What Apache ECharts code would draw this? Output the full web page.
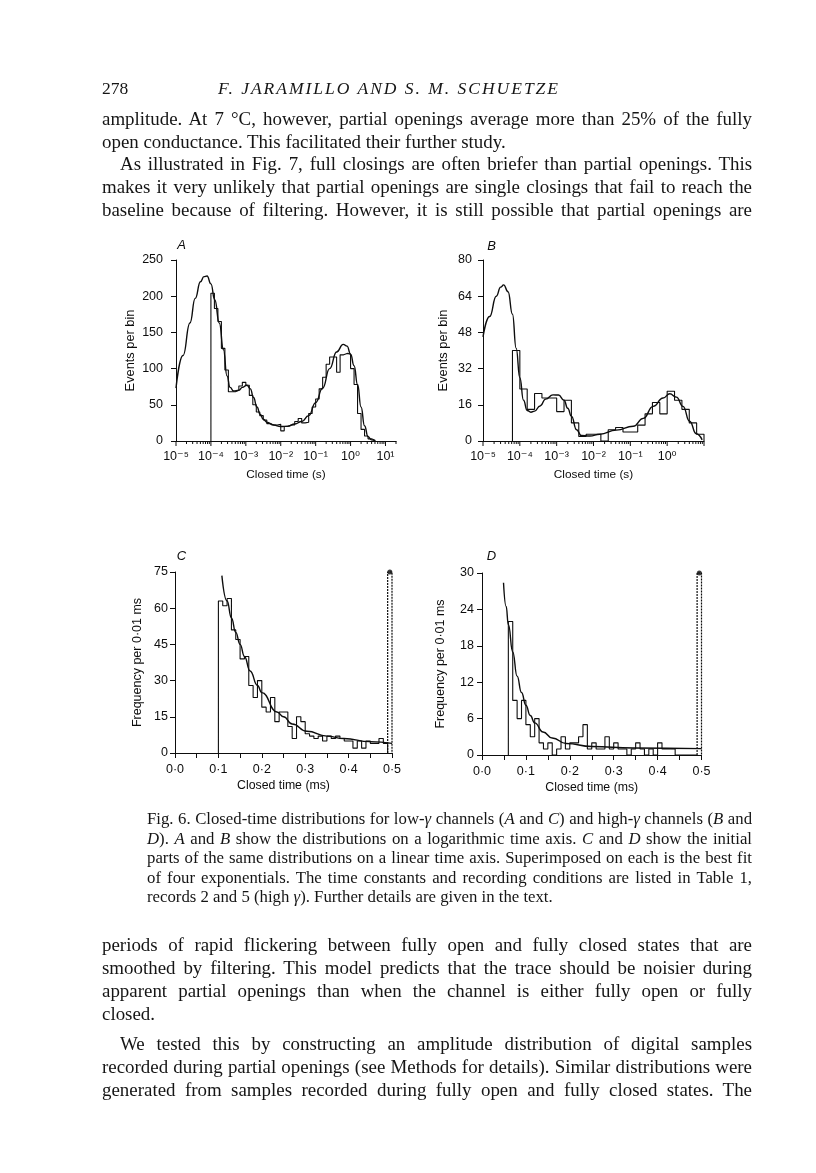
<!DOCTYPE html>
<html>
<head>
<meta charset="utf-8">
<title>Fig. 6 closed-time distributions</title>
<script src="https://cdn.jsdelivr.net/npm/echarts@6.0.0/dist/echarts.min.js"></script>
<style>
  html, body { margin:0; padding:0; background:#fff; }
  #page { position:relative; width:816px; height:1173px; overflow:hidden; background:#fff; }
  #chart { position:absolute; left:0; top:0; width:816px; height:1173px; }
  .ln { position:absolute; white-space:nowrap; font-family:'Liberation Serif','DejaVu Serif',serif; color:#151515; }
  .j { text-align:justify; text-align-last:justify; }
</style>
</head>
<body>
<div id="page"><div id="chart"></div></div>
<script>
// ---------------- DATA ----------------
// Panel A (low-gamma, log axis): bins of 0.1 decade starting at 10^-4 s
const A_binExpStart = -4.0;
const A_binExpWidth = 0.1;
const A_counts = [204,183,165,128,98,68,68,70,76,81,77,63,50,40,35,29,24,22,22,23,14,20,22,22,27,31,25,26,38,47,58,72,88,106,116,116,95,119,121,120,100,78,38,16,7,3,1];
// fitted curve A: [log10(time s), events per bin]
const A_fit = [[-5.0,73],[-4.8,118],[-4.6,163],[-4.45,197],[-4.3,220],[-4.2,227],[-4.11,228],[-4.0,217],[-3.89,195],[-3.76,163],[-3.64,126],[-3.54,90],[-3.45,74],[-3.35,69],[-3.2,70],[-3.1,74],[-2.97,77],[-2.87,72],[-2.78,60],[-2.68,47],[-2.59,37],[-2.5,30],[-2.4,26],[-2.2,22],[-2.0,20],[-1.8,20.5],[-1.6,23.5],[-1.4,27],[-1.2,35],[-1.0,53],[-0.8,73],[-0.6,100],[-0.4,123],[-0.21,133.5],[-0.1,131],[0.0,120],[0.1,104],[0.2,78],[0.3,47],[0.4,21],[0.5,6],[0.6,1.5],[0.7,0.3]];

// Panel B (high-gamma, log axis): bins of 0.2 decade starting at 10^-4.2 s
const B_binExpStart = -4.2;
const B_binExpWidth = 0.2;
const B_counts = [40,23,14,21,19,19,13,18,8,2,3,3,0,5,6,4,4,7,12,17,12,22,18,14,8,3];
const B_fit = [[-5.0,46],[-4.82,55],[-4.64,64],[-4.52,68],[-4.44,69],[-4.32,66],[-4.2,56],[-4.1,41],[-4.0,28],[-3.9,18],[-3.8,13.5],[-3.7,12.7],[-3.6,13.2],[-3.45,15.5],[-3.3,18.5],[-3.1,20.4],[-2.95,20.3],[-2.8,18],[-2.7,14.5],[-2.6,11],[-2.46,5],[-2.33,2.4],[-2.1,2.2],[-1.83,3],[-1.38,4.8],[-0.92,6.5],[-0.65,10],[-0.38,15.3],[-0.11,19],[0.07,20.9],[0.25,19.4],[0.43,15.3],[0.61,8.7],[0.79,3.2],[0.95,0.5]];

// Panel C (low-gamma, linear axis, ms): bins of 0.01 ms starting at 0.10 ms
const C_binStart = 0.10;
const C_binWidth = 0.01;
const C_counts = [63,61,64,51,47,39,40,28,23,30,19,17,23,13,17,17,11,6,15,13,8,7,6,7,5,7,6,7,6,5,5,2,5,2,5,4,4,6,4];
const C_overflow = { from: 0.49, to: 0.50, value: 75 };
const C_fit = [[0.108,73.5],[0.12,63],[0.13,56],[0.14,50],[0.15,45],[0.16,40],[0.173,34],[0.19,28],[0.2,25],[0.235,17],[0.25,15],[0.27,12],[0.304,9],[0.35,7],[0.389,6],[0.45,4.7],[0.5,4]];

// Panel D (high-gamma, linear axis, ms): bins of 0.01 ms starting at 0.06 ms
const D_binStart = 0.06;
const D_binWidth = 0.01;
const D_counts = [22,9,6,9,5,3,6,2,1,2,0,1,3,1,2,2,3,5,1,2,1,1,3,1,2,1,1,0,1,2,1,0,1,0,2,1,1,1,0,0,0,0,0];
const D_overflow = { from: 0.49, to: 0.50, value: 30 };
const D_fit = [[0.049,28.4],[0.055,24.5],[0.06,21.5],[0.07,17],[0.08,13],[0.09,10.3],[0.1,8.2],[0.11,6.5],[0.12,5.3],[0.139,3.8],[0.16,2.8],[0.192,1.9],[0.25,1.4],[0.344,1.15],[0.5,1.05]];

// axis ticks
const A_yTicks = { min: 0, max: 250, interval: 50 };
const B_yTicks = { min: 0, max: 80, interval: 16 };
const C_yTicks = { min: 0, max: 75, interval: 15 };
const D_yTicks = { min: 0, max: 30, interval: 6 };
const A_xRange = { min: 1e-5, max: 20 };
const B_xRange = { min: 1e-5, max: 10 };
const CD_xRange = { min: 0, max: 0.5, interval: 0.05 };

// ---------------- TEXT ----------------
const headerNum = '278';
const headerTitle = 'F. JARAMILLO AND S. M. SCHUETZE';
const textTop = [
  'amplitude. At 7 °C, however, partial openings average more than 25% of the fully',
  'open conductance. This facilitated their further study.',
  'As illustrated in Fig. 7, full closings are often briefer than partial openings. This',
  'makes it very unlikely that partial openings are single closings that fail to reach the',
  'baseline because of filtering. However, it is still possible that partial openings are'
];
const caption = [
  'Fig. 6. Closed-time distributions for low-<i>γ</i> channels (<i>A</i> and <i>C</i>) and high-<i>γ</i> channels (<i>B</i> and',
  '<i>D</i>). <i>A</i> and <i>B</i> show the distributions on a logarithmic time axis. <i>C</i> and <i>D</i> show the initial',
  'parts of the same distributions on a linear time axis. Superimposed on each is the best fit',
  'of four exponentials. The time constants and recording conditions are listed in Table 1,',
  'records 2 and 5 (high <i>γ</i>). Further details are given in the text.'
];
const textBottom = [
  'periods of rapid flickering between fully open and fully closed states that are',
  'smoothed by filtering. This model predicts that the trace should be noisier during',
  'apparent partial openings than when the channel is either fully open or fully',
  'closed.',
  'We tested this by constructing an amplitude distribution of digital samples',
  'recorded during partial openings (see Methods for details). Similar distributions were',
  'generated from samples recorded during fully open and fully closed states. The'
];

// ---------------- LAYOUT: page text ----------------
const page = document.getElementById('page');
const probe = document.createElement('span');
probe.className = 'ln';
probe.style.visibility = 'hidden';
probe.style.fontSize = '100px';
page.appendChild(probe);
function natWidth(html, italic) {
  probe.style.fontStyle = italic ? 'italic' : 'normal';
  probe.innerHTML = html;
  return probe.getBoundingClientRect().width / 100;
}
function fitSize(lines, widths, just, maxSize) {
  let s = maxSize;
  lines.forEach((t, i) => { if (just[i]) s = Math.min(s, widths[i] / natWidth(t, false)); });
  return s * 0.993;
}
function addLine(html, left, width, centerY, size, justify, italic, extra) {
  const d = document.createElement('div');
  d.className = 'ln' + (justify ? ' j' : '');
  const lh = Math.round(size * 1.3);
  d.style.cssText = 'left:' + left + 'px;top:' + (centerY - lh / 2) + 'px;width:' + width + 'px;height:' + lh +
    'px;line-height:' + lh + 'px;font-size:' + size + 'px;' + (italic ? 'font-style:italic;' : '') + (extra || '');
  d.innerHTML = html;
  page.appendChild(d);
}
// header
const headSize = 17.5;
const headNat = natWidth(headerTitle, true) * headSize;
const headSpacing = Math.max(0, (342 - headNat) / headerTitle.length);
addLine(headerNum, 102, 40, 88, 17.5, false, false);
addLine(headerTitle, 218, 380, 88, headSize, false, true, 'letter-spacing:' + headSpacing.toFixed(2) + 'px;');
// body (top)
const topY = [118, 141, 163.5, 186.5, 209.5];
const topJust = [true, false, true, true, true];
const topInd = [0, 0, 18, 0, 0];
const bodySize = fitSize(textTop.concat(textBottom),
  topInd.map(v => 650 - v).concat([650, 650, 650, 650, 632, 650, 650]),
  topJust.concat([true, true, true, false, true, true, true]), 20.5);
textTop.forEach((t, i) => addLine(t, 102 + topInd[i], 650 - topInd[i], topY[i], bodySize, topJust[i], false));
// caption
const capY = [819, 838.5, 858, 877.5, 897];
const capJust = [true, true, true, true, false];
const capSize = fitSize(caption, [605, 605, 605, 605, 605], capJust, 17);
caption.forEach((t, i) => addLine(t, 147, 605, capY[i], capSize, capJust[i], false));
// body (bottom)
const botY = [944, 967, 990, 1013, 1043, 1066, 1089];
const botJust = [true, true, true, false, true, true, true];
const botInd = [0, 0, 0, 0, 18, 0, 0];
textBottom.forEach((t, i) => addLine(t, 102 + botInd[i], 650 - botInd[i], botY[i], bodySize, botJust[i], false));
probe.remove();

// ---------------- CHART ----------------
const INK = '#0d0d0d';
const SANS = '"Liberation Sans", Arial, "DejaVu Sans", sans-serif';
const SUP = { '-': '⁻', '0': '⁰', '1': '¹', '2': '²', '3': '³', '4': '⁴', '5': '⁵', '6': '⁶', '7': '⁷', '8': '⁸', '9': '⁹' };
function logLabel(v) {
  const e = Math.log10(v);
  const r = Math.round(e);
  if (Math.abs(e - r) > 1e-6) return '';
  return '10' + String(r).split('').map(c => SUP[c]).join('');
}
function msLabel(v) {
  const r = Math.round(v * 100);
  if (r % 10 !== 0) return '';
  return (r / 100).toFixed(1).replace('.', '·');
}
function logEdges(start, width, n) {
  const out = [];
  for (let i = 0; i <= n; i++) out.push(Math.pow(10, +(start + i * width).toFixed(4)));
  return out;
}
function linEdges(start, width, n) {
  const out = [];
  for (let i = 0; i <= n; i++) out.push(+(start + i * width).toFixed(4));
  return out;
}
function histPath(edges, counts) {
  const pts = [[edges[0], 0]];
  counts.forEach((c, i) => { pts.push([edges[i], c]); pts.push([edges[i + 1], c]); });
  pts.push([edges[counts.length], 0]);
  return pts;
}
function expPts(fit) { return fit.map(p => [Math.pow(10, p[0]), p[1]]); }

function yAxis(idx, t, margin, nameGap, name, fs) {
  return {
    type: 'value', gridIndex: idx, min: t.min, max: t.max, interval: t.interval,
    name: name, nameLocation: 'middle', nameGap: nameGap,
    nameTextStyle: { fontFamily: SANS, fontSize: fs, color: INK },
    axisLine: { show: true, lineStyle: { color: INK, width: 1 } },
    axisTick: { show: true, length: 5, lineStyle: { color: INK, width: 1 } },
    axisLabel: { show: true, margin: margin, fontFamily: SANS, fontSize: 12.5, color: INK },
    splitLine: { show: false }
  };
}
function logXAxis(idx, r, showMax) {
  return {
    type: 'log', logBase: 10, gridIndex: idx, min: r.min, max: r.max,
    name: 'Closed time (s)', nameLocation: 'middle', nameGap: 28,
    nameTextStyle: { fontFamily: SANS, fontSize: 11.8, color: INK },
    axisLine: { show: true, lineStyle: { color: INK, width: 1 } },
    axisTick: { show: false },
    axisLabel: { show: true, margin: 9, fontFamily: SANS, fontSize: 12.5, color: INK, formatter: logLabel, showMaxLabel: showMax, showMinLabel: true },
    splitLine: { show: false }, minorTick: { show: false }, minorSplitLine: { show: false }
  };
}
function linXAxis(idx) {
  return {
    type: 'value', gridIndex: idx, min: CD_xRange.min, max: CD_xRange.max, interval: CD_xRange.interval,
    name: 'Closed time (ms)', nameLocation: 'middle', nameGap: 27,
    nameTextStyle: { fontFamily: SANS, fontSize: 12.3, color: INK },
    axisLine: { show: true, lineStyle: { color: INK, width: 1 } },
    axisTick: { show: true, length: 5, lineStyle: { color: INK, width: 1 } },
    axisLabel: { show: true, margin: 10, fontFamily: SANS, fontSize: 12.5, color: INK, formatter: msLabel, showMaxLabel: true, showMinLabel: true },
    splitLine: { show: false }
  };
}
function logTicks(idx, r) {
  const data = [];
  const e0 = Math.floor(Math.log10(r.min) + 1e-9);
  for (let e = e0; Math.pow(10, e) <= r.max * 1.0001; e++) {
    for (let k = 1; k <= 9; k++) {
      const v = k * Math.pow(10, e);
      if (v >= r.min * 0.9999 && v <= r.max * 1.0001) data.push([v, k === 1 ? 1 : 0]);
    }
  }
  return {
    type: 'custom', xAxisIndex: idx, yAxisIndex: idx, clip: false, silent: true, z: 5,
    renderItem: function (params, api) {
      const p = api.coord([api.value(0), 0]);
      const len = api.value(1) ? 5 : 3;
      return { type: 'line', shape: { x1: p[0], y1: p[1], x2: p[0], y2: p[1] + len }, style: { stroke: INK, lineWidth: 1 } };
    },
    data: data
  };
}
function lineSeries(idx, data, opts) {
  return Object.assign({
    type: 'line', xAxisIndex: idx, yAxisIndex: idx, data: data, showSymbol: false, symbol: 'none',
    silent: true, animation: false, lineStyle: { color: INK, width: 1.1 }
  }, opts || {});
}
function overflowSeries(idx, o) {
  return [
    lineSeries(idx, [[o.from, 0], [o.from, o.value], [o.to, o.value], [o.to, 0]], { lineStyle: { color: INK, width: 1.2, type: [2, 1] }, clip: false }),
    { type: 'scatter', xAxisIndex: idx, yAxisIndex: idx, silent: true, symbol: 'circle', symbolSize: 5,
      itemStyle: { color: INK }, data: [[(o.from + o.to) / 2, o.value]], clip: false }
  ];
}

const A_edges = logEdges(A_binExpStart, A_binExpWidth, A_counts.length);
const B_edges = logEdges(B_binExpStart, B_binExpWidth, B_counts.length);
const C_edges = linEdges(C_binStart, C_binWidth, C_counts.length);
const D_edges = linEdges(D_binStart, D_binWidth, D_counts.length);

const fitStyle = { smooth: 0.5, smoothMonotone: 'x', lineStyle: { color: INK, width: 1.4 } };
const letterFont = 'italic 13px "Liberation Sans", Arial, sans-serif';
function letter(t, x, y) {
  return { type: 'text', x: x, y: y, silent: true, style: { text: t, font: letterFont, fill: INK, align: 'center', verticalAlign: 'middle' } };
}

const option = {
  backgroundColor: 'transparent',
  animation: false,
  grid: [
    { left: 176, top: 260, width: 220, height: 181, outerBoundsMode: 'none' },
    { left: 483, top: 260, width: 221, height: 181, outerBoundsMode: 'none' },
    { left: 175, top: 572, width: 217, height: 181, outerBoundsMode: 'none' },
    { left: 482, top: 573, width: 219.5, height: 182, outerBoundsMode: 'none' }
  ],
  xAxis: [logXAxis(0, A_xRange, true), logXAxis(1, B_xRange, false), linXAxis(2), linXAxis(3)],
  yAxis: [
    yAxis(0, A_yTicks, 13, 39, 'Events per bin', 12.8),
    yAxis(1, B_yTicks, 11, 33, 'Events per bin', 12.8),
    yAxis(2, C_yTicks, 7, 31, 'Frequency per 0·01 ms', 12.5),
    yAxis(3, D_yTicks, 8, 35, 'Frequency per 0·01 ms', 12.5)
  ],
  graphic: [letter('A', 181.5, 245), letter('B', 491.5, 246), letter('C', 181.5, 556), letter('D', 491.5, 556.5)],
  series: [
    logTicks(0, A_xRange),
    logTicks(1, B_xRange),
    lineSeries(0, histPath(A_edges, A_counts)),
    lineSeries(0, expPts(A_fit), fitStyle),
    lineSeries(1, histPath(B_edges, B_counts)),
    lineSeries(1, expPts(B_fit), fitStyle),
    lineSeries(2, histPath(C_edges, C_counts)),
    lineSeries(2, C_fit, fitStyle),
    ...overflowSeries(2, C_overflow),
    lineSeries(3, histPath(D_edges, D_counts)),
    lineSeries(3, D_fit, fitStyle),
    ...overflowSeries(3, D_overflow)
  ]
};
const chart = echarts.init(document.getElementById('chart'), null, { renderer: 'canvas', width: 816, height: 1173 });
chart.setOption(option);
</script>
</body>
</html>
